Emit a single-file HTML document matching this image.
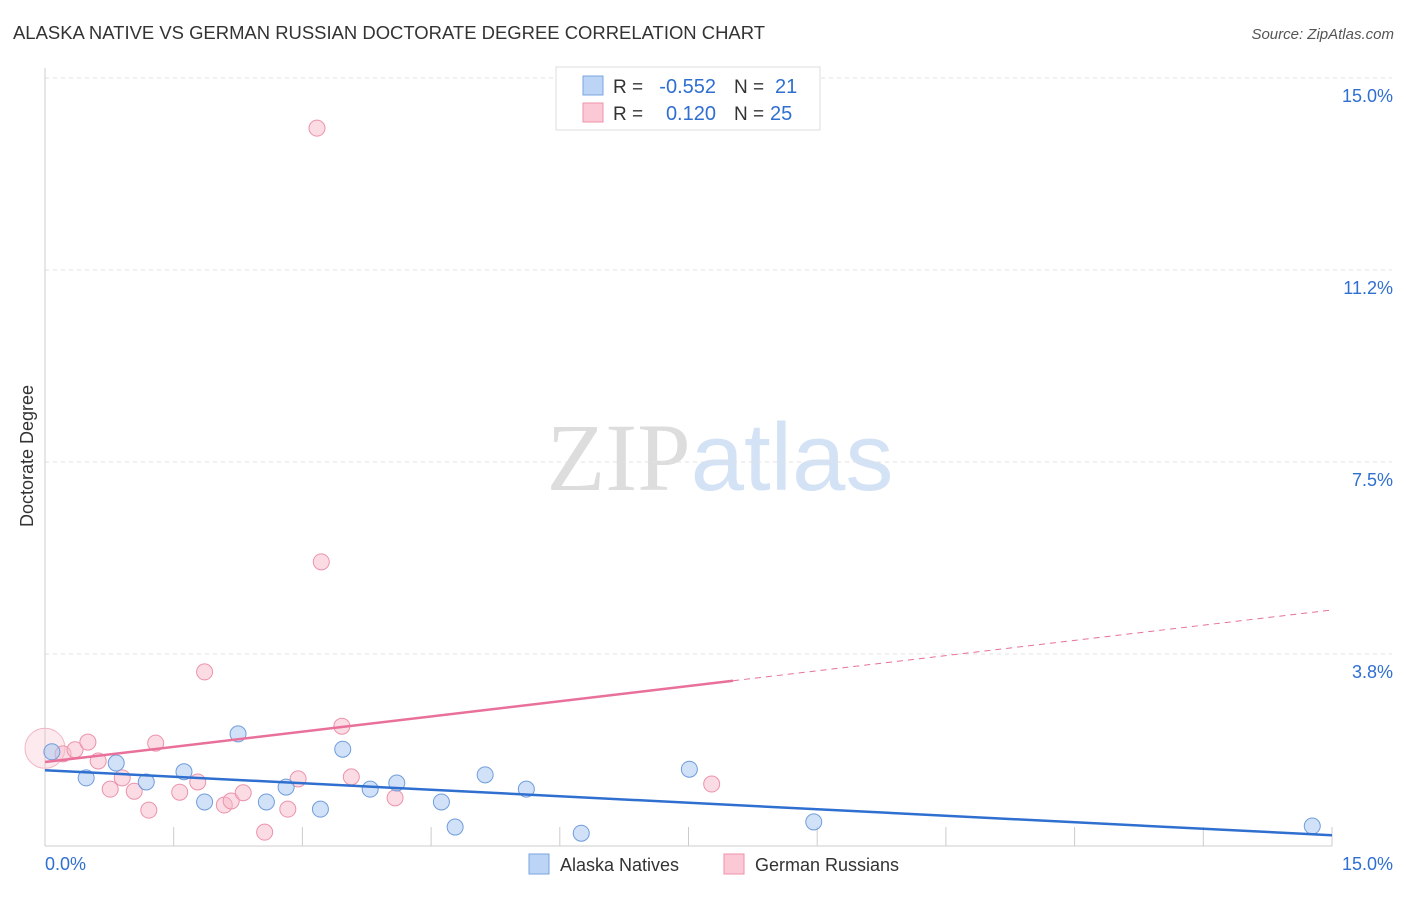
<!DOCTYPE html>
<html><head><meta charset="utf-8"><style>
body{margin:0;background:#fff;font-family:"Liberation Sans",sans-serif}
</style></head><body>
<svg width="1406" height="892" xmlns="http://www.w3.org/2000/svg" font-family="Liberation Sans, sans-serif">
<text x="13" y="39" font-size="18" fill="#333" textLength="752" lengthAdjust="spacingAndGlyphs">ALASKA NATIVE VS GERMAN RUSSIAN DOCTORATE DEGREE CORRELATION CHART</text>
<text x="1394" y="39" font-size="15" fill="#555" font-style="italic" text-anchor="end">Source: ZipAtlas.com</text>
<text x="720" y="490" font-size="96" text-anchor="middle"><tspan fill="#dddddd" font-family="Liberation Serif">ZIP</tspan><tspan fill="#d4e2f5">atlas</tspan></text>
<text transform="translate(33,456) rotate(-90)" font-size="18" fill="#333" text-anchor="middle">Doctorate Degree</text>
<g id="grid"></g><g id="axes"></g><g id="marks"></g>
<g>
<rect x="556" y="67" width="264" height="63" fill="#fff" stroke="#ddd"/>
<rect x="583" y="76" width="20" height="19" fill="#bcd4f5" stroke="#7aa6e0"/>
<rect x="583" y="103" width="20" height="19" fill="#fbc9d6" stroke="#ec93ab"/>
<text x="613" y="93" font-size="19" fill="#333">R =</text>
<text x="716" y="93" font-size="20" fill="#2f6fd0" text-anchor="end">-0.552</text>
<text x="734" y="93" font-size="19" fill="#333">N =</text>
<text x="775" y="93" font-size="20" fill="#2f6fd0">21</text>
<text x="613" y="120" font-size="19" fill="#333">R =</text>
<text x="716" y="120" font-size="20" fill="#2f6fd0" text-anchor="end">0.120</text>
<text x="734" y="120" font-size="19" fill="#333">N =</text>
<text x="770" y="120" font-size="20" fill="#2f6fd0">25</text>
</g>
<g>
<rect x="529" y="854" width="20" height="20" fill="#bcd4f5" stroke="#7aa6e0"/>
<text x="560" y="871" font-size="18" fill="#333">Alaska Natives</text>
<rect x="724" y="854" width="20" height="20" fill="#fbc9d6" stroke="#ec93ab"/>
<text x="755" y="871" font-size="18" fill="#333">German Russians</text>
</g>
</svg>
<script>
const yTicks=[3.75,7.5,11.25,15];
const yTickLabels=["3.8%","7.5%","11.2%","15.0%"];
const blueX=[0.08,0.48,0.83,1.18,1.62,1.86,2.25,2.58,2.81,3.21,3.47,3.79,4.10,4.62,4.78,5.13,5.61,6.25,7.51,8.96,14.77];
const blueY=[1.84,1.33,1.62,1.25,1.45,0.86,2.19,0.86,1.15,0.72,1.89,1.11,1.23,0.86,0.37,1.39,1.11,0.25,1.50,0.47,0.39];
const pinkX=[0,0.21,0.35,0.50,0.62,0.76,0.90,1.04,1.21,1.29,1.57,1.78,1.86,2.09,2.17,2.31,2.56,2.83,2.95,3.17,3.22,3.46,3.57,4.08,7.77];
const pinkY=[1.91,1.80,1.88,2.03,1.66,1.11,1.33,1.07,0.70,2.01,1.05,1.25,3.40,0.80,0.88,1.04,0.27,0.72,1.31,14.02,5.55,2.34,1.35,0.94,1.21];
const blueTrend=[1.48,0.21];
const pinkTrend=[1.64,4.61];
const pinkSolidEnd=8.02;
const NS="http://www.w3.org/2000/svg";
const X=v=>45+v/15*1287, Y=v=>846-v/3.75*192;
function mk(t,a,p){const e=document.createElementNS(NS,t);for(const k in a)e.setAttribute(k,a[k]);document.getElementById(p).appendChild(e);return e;}
yTicks.forEach((t,i)=>{
 const l=mk('line',{x1:45,x2:1392,y1:Y(t),y2:Y(t),stroke:'#e2e2e2','stroke-dasharray':'4,4'},'grid');
 
 
 const tx=mk('text',{x:1393,y:Y(t)+24,'font-size':18,fill:'#2f6fd0','text-anchor':'end'},'grid');tx.textContent=yTickLabels[i];
 
 
});
mk('line',{x1:45,x2:45,y1:68,y2:846,stroke:'#ccc'},'axes');
mk('line',{x1:45,x2:1332,y1:846,y2:846,stroke:'#ccc'},'axes');
for(let i=1;i<=10;i++){const l=mk('line',{x1:X(i*1.5),x2:X(i*1.5),y1:827,y2:846,stroke:'#ccc'},'axes');
 
 }
let t0=mk('text',{x:45,y:870,'font-size':18,fill:'#2f6fd0'},'axes');t0.textContent='0.0%';


let t1=mk('text',{x:1393,y:870,'font-size':18,fill:'#2f6fd0','text-anchor':'end'},'axes');t1.textContent='15.0%';


pinkX.forEach((x,i)=>{const c=mk('circle',{cx:X(x),cy:Y(pinkY[i]),r:i==0?20:8,fill:i==0?'rgba(248,185,202,0.3)':'rgba(248,185,202,0.5)',stroke:i==0?'#f2b5c6':'#ec93ab','stroke-width':1},'marks');
 
 });
blueX.forEach((x,i)=>{const c=mk('circle',{cx:X(x),cy:Y(blueY[i]),r:8,fill:'rgba(172,200,240,0.55)',stroke:'#6f9ddc','stroke-width':1},'marks');
 
 });
const bl=mk('line',{x1:X(0),y1:Y(blueTrend[0]),x2:X(15),y2:Y(blueTrend[1]),stroke:'#2f6fd0','stroke-width':2.5},'marks');


const pm=pinkTrend[0]+(pinkTrend[1]-pinkTrend[0])*pinkSolidEnd/15;
const pl=mk('line',{x1:X(0),y1:Y(pinkTrend[0]),x2:X(pinkSolidEnd),y2:Y(pm),stroke:'#e8709a','stroke-width':2.5},'marks');


const pd=mk('line',{x1:X(pinkSolidEnd),y1:Y(pm),x2:X(15),y2:Y(pinkTrend[1]),stroke:'#e8709a','stroke-width':1,'stroke-dasharray':'6,5'},'marks');


</script>
</body></html>
